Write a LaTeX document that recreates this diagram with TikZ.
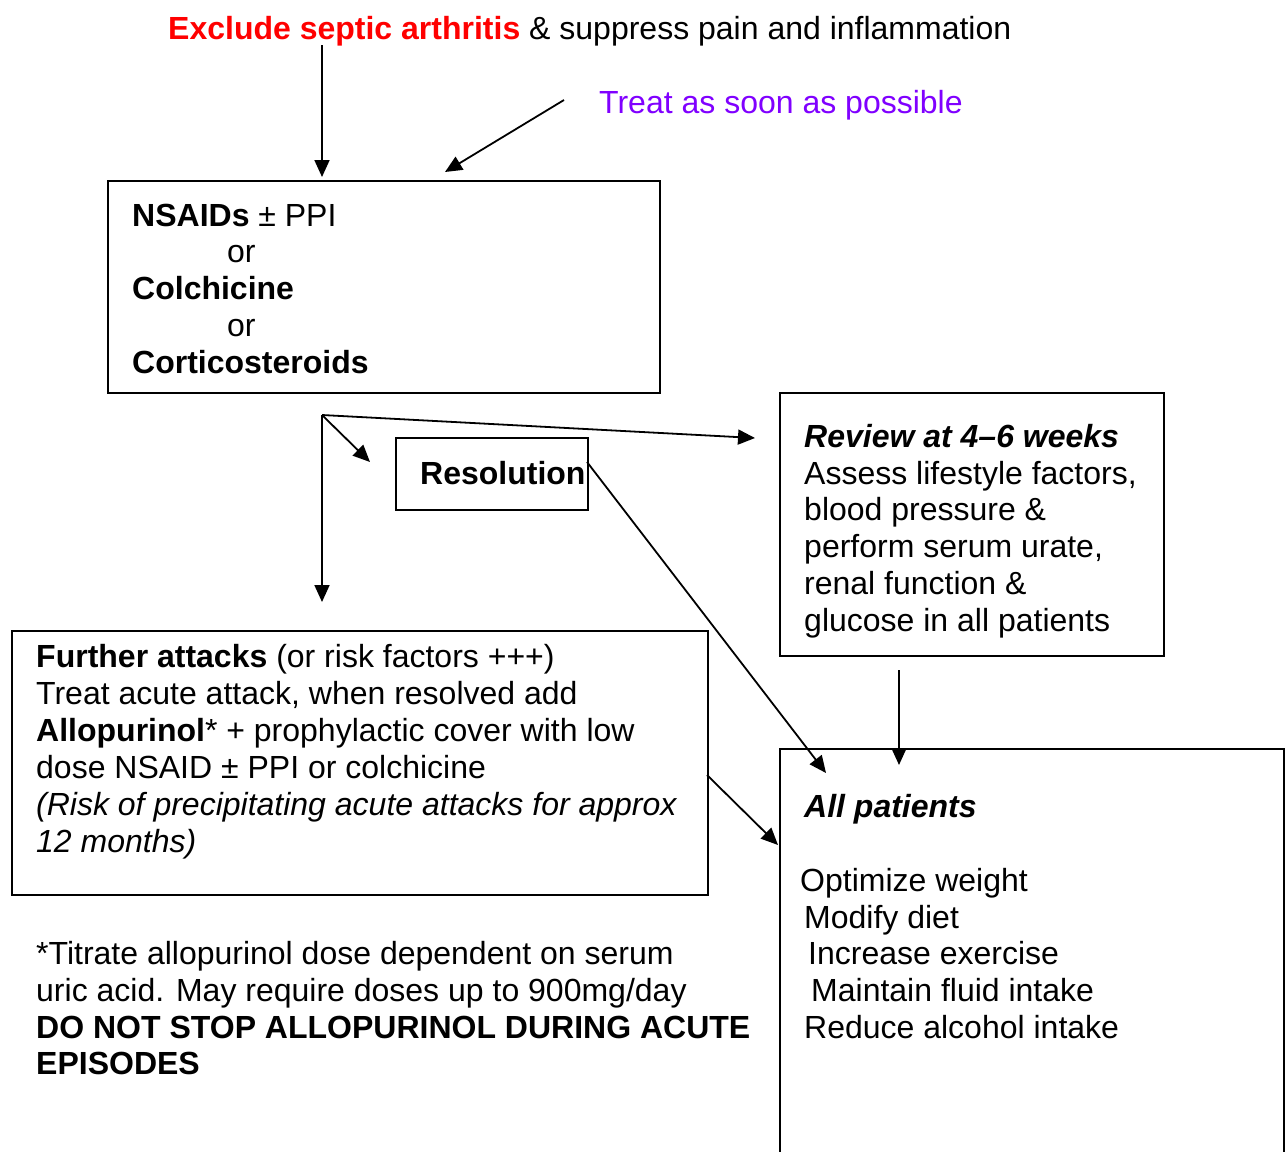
\documentclass[tikz,border=0pt]{standalone}
\usepackage{fontspec}
\setmainfont{Liberation Sans}
\usetikzlibrary{arrows.meta}
\definecolor{xred}{RGB}{255,0,0}
\definecolor{xpurple}{RGB}{128,0,255}
\begin{document}
\begin{tikzpicture}[x=1pt,y=-1pt,
  txt/.style={anchor=base west,inner sep=0pt,font=\fontsize{32}{37}\selectfont},
  box/.style={draw,line width=2pt,inner sep=0pt,anchor=north west},
  arr/.style={line width=1.8pt,-{Triangle[length=17pt,width=15pt]}}]
\useasboundingbox (0,0) rectangle (1287,1151);
\clip (0,0) rectangle (1287,1151);
\fill[white] (0,0) rectangle (1287,1151);

% boxes
\node[box,minimum width=552pt,minimum height=212pt] (nsaid) at (107,180) {};
\node[box,minimum width=192pt,minimum height=72pt] (res) at (395,437) {};
\node[box,minimum width=384pt,minimum height=263pt] (review) at (779,392) {};
\node[box,minimum width=504pt,minimum height=460pt] (allp) at (779,748) {};
\node[box,minimum width=696pt,minimum height=264pt] (further) at (11,630) {};

% top texts
\node[txt] (top) at (168,39) {\textcolor{xred}{\textbf{Exclude septic arthritis}} \& suppress pain and inflammation};
\node[txt,text=xpurple] (asap) at (599,113) {Treat as soon as possible};

% NSAID box text
\node[txt] (n1) at (132,226) {\textbf{NSAIDs} ± PPI};
\node[txt] (n2) at (227,262) {or};
\node[txt] (n3) at (132,299) {\textbf{Colchicine}};
\node[txt] (n4) at (227,336) {or};
\node[txt] (n5) at (132,373) {\textbf{Corticosteroids}};

% resolution
\node[txt] (rt) at (420,484) {\textbf{Resolution}};

% review
\node[txt] (r1) at (804,447) {\textbf{\textit{Review at 4–6 weeks}}};
\node[txt] (r2) at (804,484) {Assess lifestyle factors,};
\node[txt] (r3) at (804,520) {blood pressure \&};
\node[txt] (r4) at (804,557) {perform serum urate,};
\node[txt] (r5) at (804,594) {renal function \&};
\node[txt] (r6) at (804,631) {glucose in all patients};

% all patients
\node[txt] (p1) at (804,817) {\textbf{\textit{All patients}}};
\node[txt] (p2) at (800,891) {Optimize weight};
\node[txt] (p3) at (804,928) {Modify diet};
\node[txt] (p4) at (808,964) {Increase exercise};
\node[txt] (p5) at (811,1001) {Maintain fluid intake};
\node[txt] (p6) at (804,1038) {Reduce alcohol intake};

% further attacks
\node[txt] (f1) at (36,667) {\textbf{Further attacks} (or risk factors +++)};
\node[txt] (f2) at (36,704) {Treat acute attack, when resolved add};
\node[txt] (f3) at (36,741) {\textbf{Allopurinol}* + prophylactic cover with low};
\node[txt] (f4) at (36,778) {dose NSAID ± PPI or colchicine};
\node[txt] (f5) at (36,815) {\textit{(Risk of precipitating acute attacks for approx}};
\node[txt] (f6) at (36,852) {\textit{12 months)}};

% footnote
\node[txt] (g1) at (36,964) {*Titrate allopurinol dose dependent on serum};
\node[txt] (g2) at (36,1001) {uric acid. May require doses up to 900mg/day};
\node[txt] (g3) at (36,1038) {\textbf{DO NOT STOP ALLOPURINOL DURING ACUTE}};
\node[txt] (g4) at (36,1074) {\textbf{EPISODES}};

% connector coordinates
\coordinate (c1s) at (322,45);
\coordinate (c1e) at (322,177);
\coordinate (c2s) at (564,100);
\coordinate (c2e) at (445,172);
\coordinate (br) at (322,415);
\coordinate (brd) at (322,602);
\coordinate (brr) at (370,462);
\coordinate (brv) at (755,438);
\coordinate (ress) at (587,462);
\coordinate (rese) at (826,773);
\coordinate (revs) at (899,670);
\coordinate (reve) at (899,765);
\coordinate (fs) at (707,775);
\coordinate (fe) at (778,845);

\draw[arr] (c1s) -- (c1e);
\draw[arr] (c2s) -- (c2e);
\draw[arr] (br) -- (brd);
\draw[arr] (br) -- (brr);
\draw[arr] (br) -- (brv);
\draw[arr] (ress) -- (rese);
\draw[arr] (revs) -- (reve);
\draw[arr] (fs) -- (fe);
\end{tikzpicture}
\end{document}
